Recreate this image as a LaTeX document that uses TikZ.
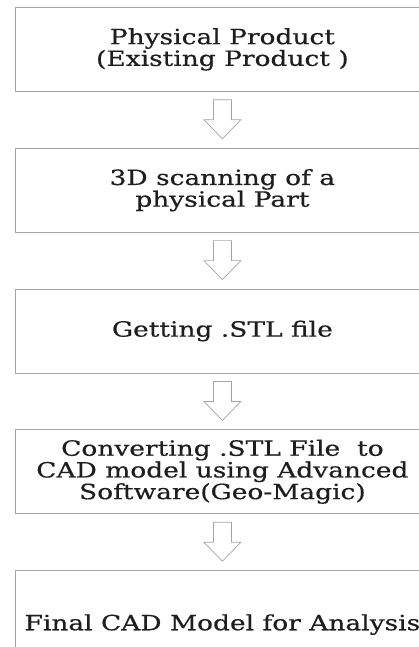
\documentclass[tikz,border=0pt]{standalone}
\usepackage{fontspec}
\setmainfont[FakeStretch=1.26,FakeBold=0.5]{DejaVu Serif}
\usetikzlibrary{positioning}
\definecolor{boxline}{HTML}{A4A4A4}
\definecolor{boxtext}{HTML}{1E1E1E}

\begin{document}
\begin{tikzpicture}[
    box/.style={draw=boxline, line width=0.8pt, fill=white, rectangle, minimum width=414pt, minimum height=84pt, align=center, text=boxtext, font=\fontsize{21pt}{21.7pt}\selectfont, inner sep=0pt},
    hollow/.style={draw=boxline, line width=0.7pt, fill=white, line join=miter}
    ]
       \useasboundingbox (0,0) rectangle (419pt,-647pt);
       %Defining nodes
       \node[box, anchor=north west] (Product) at (15pt,-7pt) {Physical Product\\(Existing Product )};
       \node[box, below=56pt of Product] (Scan) {3D scanning of a\\physical Part};
       \node[box, below=56pt of Scan] (Stl) {Getting .STL file};
       \node[box, below=56pt of Stl] (Convert) {Converting .STL File\ \ to\\CAD model using Advanced\\Software(Geo-Magic)};
       \node[box, below=56pt of Convert, anchor=north, minimum height=108pt] (Final) {Final CAD Model for Analysis};

       %Drawing Diagram
       \foreach \a/\b in {Product/Scan, Scan/Stl, Stl/Convert, Convert/Final}
         \draw[hollow] ([xshift=-9pt,yshift=-8pt]\a.south) -- ++(0,-20pt) -- ++(-9.5pt,0) -- ([yshift=9pt]\b.north) -- ++(18.5pt,19pt) -- ++(-9.5pt,0) -- ++(0,20pt) -- cycle;
    \end{tikzpicture}
\end{document}
